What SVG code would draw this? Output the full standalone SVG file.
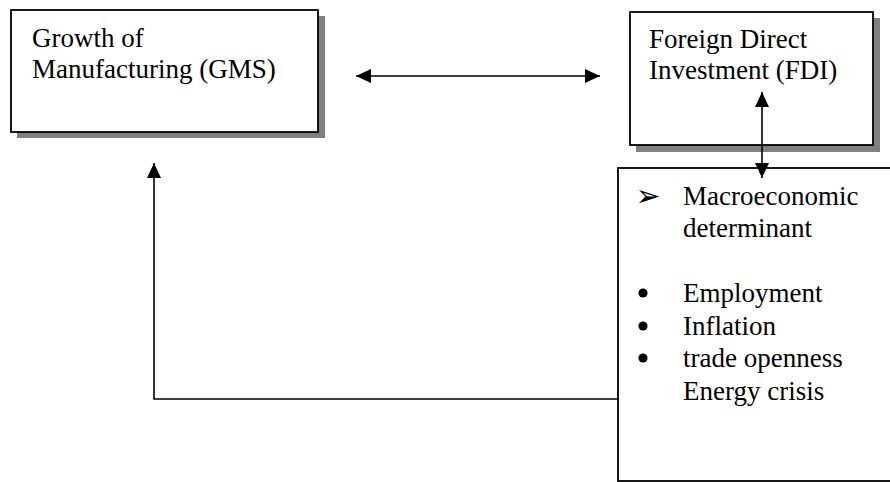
<svg xmlns="http://www.w3.org/2000/svg" width="890" height="482" viewBox="0 0 890 482">
  <style>
    .box { fill: #ffffff; stroke: #000000; stroke-width: 1.8; }
    .shadow { fill: #808080; stroke: none; }
    .t { font-family: "Liberation Serif", "Times New Roman", serif; font-size: 27px; fill: #000000; }
    .conn { fill: none; stroke: #000000; stroke-width: 1.6; }
    .bul { fill: #000000; stroke: none; }
    .arr { font-family: "DejaVu Sans", sans-serif; font-size: 30px; fill: #000000; text-anchor: middle; }
  </style>
  <defs>
    <marker id="ah" markerUnits="userSpaceOnUse" markerWidth="15" markerHeight="14" refX="15" refY="7" orient="auto-start-reverse" viewBox="0 0 15 14">
      <path d="M0,0 L15,7 L0,14 z" fill="#000000"/>
    </marker>
  </defs>
  <rect width="890" height="482" fill="#ffffff"/>

  <g id="gms">
    <rect class="shadow" x="17" y="16" width="308" height="122"/>
    <rect class="box" x="11" y="10" width="307" height="122"/>
    <text class="t" x="32" y="47">Growth of</text>
    <text class="t" x="32" y="78">Manufacturing (GMS)</text>
  </g>

  <g id="fdi">
    <rect class="shadow" x="636" y="18" width="244" height="134"/>
    <rect class="box" x="630" y="12" width="243" height="133"/>
    <text class="t" x="649" y="48">Foreign Direct</text>
    <text class="t" x="649" y="79">Investment (FDI)</text>
  </g>

  <g id="determinants">
    <rect class="box" x="618" y="168" width="290" height="313"/>
    <text class="arr" x="648" y="206">➢</text>
    <text class="t" x="683" y="205">Macroeconomic</text>
    <text class="t" x="683" y="237">determinant</text>
    <circle class="bul" cx="643" cy="293" r="4.6"/>
    <text class="t" x="683" y="302">Employment</text>
    <circle class="bul" cx="643" cy="326" r="4.6"/>
    <text class="t" x="683" y="335">Inflation</text>
    <circle class="bul" cx="643" cy="358" r="4.6"/>
    <text class="t" x="683" y="367">trade openness</text>
    <text class="t" x="683" y="400">Energy crisis</text>
  </g>

  <g id="connectors">
    <line class="conn" x1="356" y1="76" x2="600" y2="76" marker-start="url(#ah)" marker-end="url(#ah)"/>
    <line class="conn" x1="762" y1="92" x2="762" y2="178" marker-start="url(#ah)" marker-end="url(#ah)"/>
    <path class="conn" d="M618,399 H154 V163" marker-end="url(#ah)"/>
  </g>
</svg>
